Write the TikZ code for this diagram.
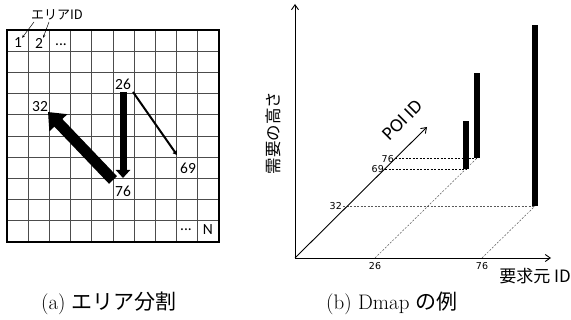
\documentclass[tikz,border=0pt]{standalone}
\usepackage{fontspec}
\newfontfamily\jp{Noto Sans CJK JP}
\newfontfamily\calib{Carlito}
\newfontfamily\dv{DejaVu Sans}
\usetikzlibrary{arrows.meta}
\begin{document}
\begin{tikzpicture}[x=1pt,y=-1pt,
  gridl/.style={draw=black!70, line width=0.7pt},
  glab/.style={font=\calib\fontsize{15.5}{15.5}\selectfont, inner sep=0pt},
  axisl/.style={line width=0.9pt, -{Straight Barb[length=5pt,width=7pt]}},
  dsh/.style={dashed, dash pattern=on 2pt off 1.5pt, line width=0.5pt},
  dshg/.style={dashed, dash pattern=on 2pt off 1.5pt, line width=0.5pt, draw=black!65},
  barl/.style={line width=5.5pt},
  ticklab/.style={font=\dv\fontsize{9.5}{9.5}\selectfont, inner sep=0pt},
  captext/.style={font=\fontsize{21}{21}\selectfont, inner sep=0pt}]
\useasboundingbox (0,0) rectangle (571,320);
% ---- (a) grid ----
\foreach \i in {1,...,9} {
  \draw[gridl] ({7+21.2*\i},30) -- ({7+21.2*\i},242);
  \draw[gridl] (7,{30+21.2*\i}) -- (219,{30+21.2*\i});
}
\draw[line width=1.3pt] (7,30) rectangle (219,242);
\node[font=\jp\fontsize{13}{13}\selectfont, inner sep=0pt] (aid) at (57,15) {エリアID};
\node[glab] (c1) at (18,43) {1};
\node[glab] (c2) at (39,43) {2};
\node[glab] (c3) at (61,45) {...};
\node[glab] (cd) at (186,230) {...};
\node[glab] (cn) at (208,230) {N};
\coordinate (q1) at (34,22);
\coordinate (q2) at (49,22);
\draw[line width=0.5pt, -{Stealth[length=3pt,width=2.5pt]}] (q1) -- (c1.north east);
\draw[line width=0.5pt, -{Stealth[length=3pt,width=2.5pt]}] (q2) -- (c2.north east);
\node[glab] (g26) at (123,84) {26};
\node[glab] (g32) at (40,107) {32};
\node[glab] (g69) at (188,168) {69};
\node[glab] (g76) at (123,191) {76};
\coordinate (v1) at (123,92);
\coordinate (v2) at (123,178);
\coordinate (d1) at (113,180);
\coordinate (d2) at (48,112);
\coordinate (t1) at (133,92);
\coordinate (t2) at (177,155);
\draw[line width=7pt, -{Triangle[length=8pt,width=14pt]}] (v1) -- (v2);
\draw[line width=11pt, -{Triangle[length=15pt,width=24pt]}] (d1) -- (d2);
\draw[line width=2pt, -{Triangle[length=4pt,width=5pt]}] (t1) -- (t2);
% ---- (b) Dmap ----
\coordinate (O) at (295,258);
\coordinate (Ytop) at (295,4);
\coordinate (Xend) at (551,258);
\coordinate (Pend) at (427,127);
\coordinate (x26) at (375,258);
\coordinate (x76) at (482,258);
\coordinate (p32) at (343,206);
\coordinate (p69) at (385,169);
\coordinate (p76) at (395,158);
\coordinate (b69) at (466,169);
\coordinate (b76) at (477,158);
\coordinate (b32) at (535,206);
\coordinate (h69) at (466,121);
\coordinate (h76) at (477,73);
\coordinate (h32) at (535,25);
\draw[dshg] (p32) -- (b32);
\draw[dsh] (p69) -- (b69);
\draw[dsh] (p76) -- (b76);
\draw[dshg] (x26) -- (b76);
\draw[dshg] (x76) -- (b32);
\draw[axisl] (O) -- (Ytop);
\draw[axisl] (O) -- (Xend);
\draw[axisl] (O) -- (Pend);
\draw[barl] (b69) -- (h69);
\draw[barl] (b76) -- (h76);
\draw[barl] (b32) -- (h32);
\node[ticklab, anchor=east] (l32) at ([xshift=-1pt]p32) {32};
\node[ticklab, anchor=east] (l69) at ([xshift=-1pt]p69) {69};
\node[ticklab, anchor=east] (l76) at ([xshift=-1pt,yshift=-1pt]p76) {76};
\node[ticklab, anchor=north] (l26) at ([yshift=-4pt]x26) {26};
\node[ticklab, anchor=north] (l76x) at ([yshift=-4pt]x76) {76};
\node[font=\calib\fontsize{19}{19}\selectfont, rotate=45, inner sep=0pt] (poi) at (402,120) {POI ID};
\node[font=\jp\fontsize{16.5}{16.5}\selectfont, rotate=90, inner sep=0pt] (ylab) at (273,133) {需要の高さ};
\node[font=\jp\fontsize{17}{17}\selectfont, inner sep=0pt, anchor=east] (xlab) at (571,276) {要求元 ID};
% ---- captions ----
\node[captext] (capa) at (109,303) {(a) {\jp エリア分割}};
\node[captext] (capb) at (392,303) {(b) Dmap {\jp の例}};
\end{tikzpicture}
\end{document}
